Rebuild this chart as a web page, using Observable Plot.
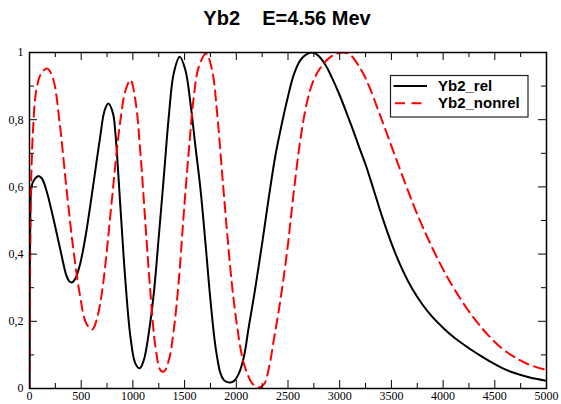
<!DOCTYPE html>
<html><head><meta charset="utf-8">
<script src="https://cdn.jsdelivr.net/npm/d3@7"></script>
<script src="https://cdn.jsdelivr.net/npm/@observablehq/plot@0.6"></script>
<style>
body{margin:0;background:#fff;}
#wrap{position:relative;width:561px;height:404px;overflow:hidden;}
#title{position:absolute;left:0;top:8px;width:574px;text-align:center;white-space:pre;
  font:bold 20px "Liberation Sans",Arial,sans-serif;line-height:20px;color:#000;}
#chart{position:absolute;left:0;top:36px;}
#legend{position:absolute;left:0;top:0;pointer-events:none;}
</style></head>
<body>
<div id="wrap">
  <div id="title">Yb2    E=4.56 Mev</div>
  <div id="chart"></div>
  <svg id="legend" width="561" height="404"></svg>
</div>
<script>
const seriesNames = ["Yb2_rel", "Yb2_nonrel"];
const xTicks = [0, 500, 1000, 1500, 2000, 2500, 3000, 3500, 4000, 4500, 5000];
const xLabels = ["0", "500", "1000", "1500", "2000", "2500", "3000", "3500", "4000", "4500", "5000"];
const xMinor = [250, 750, 1250, 1750, 2250, 2750, 3250, 3750, 4250, 4750];
const yTicks = [0, 0.2, 0.4, 0.6, 0.8, 1];
const yLabels = ["0", "0,2", "0,4", "0,6", "0,8", "1"];
const yMinor = [0.1, 0.3, 0.5, 0.7, 0.9];

const relX = [0, 3, 7, 12, 20, 34, 82, 120, 163, 227, 292, 356, 385, 414, 445, 485, 520, 550, 614, 679, 727, 763, 808, 831, 879, 927, 976, 1024, 1066, 1105, 1153, 1202, 1250, 1299, 1347, 1395, 1453, 1508, 1557, 1605, 1653, 1702, 1750, 1799, 1847, 1880, 1912, 1945, 1976, 2025, 2073, 2121, 2186, 2250, 2315, 2379, 2428, 2493, 2557, 2622, 2686, 2741, 2799, 2864, 2928, 2993, 3057, 3122, 3186, 3251, 3332, 3412, 3509, 3606, 3703, 3800, 3896, 4009, 4074, 4171, 4268, 4364, 4461, 4558, 4655, 4752, 4848, 5000];
const relY = [0, 0.30, 0.50, 0.57, 0.60, 0.615, 0.632, 0.625, 0.590, 0.511, 0.422, 0.337, 0.319, 0.316, 0.328, 0.365, 0.415, 0.468, 0.600, 0.739, 0.828, 0.848, 0.818, 0.759, 0.541, 0.322, 0.154, 0.074, 0.060, 0.084, 0.164, 0.283, 0.451, 0.630, 0.809, 0.938, 0.987, 0.947, 0.848, 0.720, 0.595, 0.432, 0.263, 0.124, 0.045, 0.025, 0.019, 0.018, 0.022, 0.045, 0.094, 0.184, 0.303, 0.432, 0.570, 0.695, 0.770, 0.860, 0.935, 0.978, 0.996, 1.0, 0.989, 0.962, 0.923, 0.878, 0.828, 0.775, 0.720, 0.666, 0.588, 0.510, 0.425, 0.354, 0.296, 0.250, 0.213, 0.178, 0.160, 0.137, 0.116, 0.097, 0.079, 0.063, 0.050, 0.040, 0.032, 0.023];

const nonrelX = [0, 6, 12, 20, 34, 66, 114, 172, 227, 292, 356, 421, 485, 550, 608, 650, 700, 750, 792, 847, 879, 927, 976, 1024, 1073, 1121, 1170, 1218, 1266, 1299, 1347, 1395, 1444, 1492, 1541, 1589, 1637, 1708, 1766, 1815, 1863, 1912, 1960, 2008, 2057, 2105, 2154, 2218, 2267, 2315, 2363, 2412, 2460, 2500, 2525, 2573, 2622, 2686, 2751, 2831, 2912, 2977, 3041, 3106, 3170, 3235, 3293, 3380, 3493, 3622, 3751, 3896, 4025, 4116, 4235, 4332, 4429, 4558, 4687, 4816, 5000];
const nonrelY = [0, 0.35, 0.55, 0.66, 0.77, 0.888, 0.938, 0.952, 0.923, 0.789, 0.600, 0.422, 0.283, 0.193, 0.176, 0.205, 0.285, 0.417, 0.547, 0.715, 0.797, 0.886, 0.918, 0.858, 0.699, 0.491, 0.283, 0.124, 0.055, 0.050, 0.084, 0.174, 0.322, 0.521, 0.709, 0.868, 0.957, 0.997, 0.947, 0.818, 0.640, 0.461, 0.303, 0.184, 0.094, 0.045, 0.015, 0.003, 0.012, 0.060, 0.145, 0.235, 0.335, 0.430, 0.500, 0.630, 0.745, 0.855, 0.920, 0.962, 0.987, 0.997, 1.0, 0.992, 0.967, 0.933, 0.893, 0.822, 0.728, 0.620, 0.518, 0.418, 0.340, 0.292, 0.236, 0.196, 0.161, 0.122, 0.094, 0.073, 0.055];

const rel = relX.map((x, i) => ({x, y: relY[i]}));
const nonrel = nonrelX.map((x, i) => ({x, y: nonrelY[i]}));

const W = 561, H = 368, mT = 16, mB = 16, mL = 29, mR = 15;
const fw = W - mL - mR, fh = H - mT - mB;
const major = 8, minor = 5;
const tickStyle = {stroke: "black", strokeWidth: 1};

const plot = Plot.plot({
  width: W, height: H,
  marginTop: mT, marginBottom: mB, marginLeft: mL, marginRight: mR,
  x: {domain: [0, 5000], label: null},
  y: {domain: [0, 1], label: null},
  style: {fontFamily: "'Liberation Serif', 'Times New Roman', serif", fontSize: "12px", color: "black", background: "white"},
  marks: [
    Plot.line(rel, {x: "x", y: "y", stroke: "black", strokeWidth: 2, curve: "catmull-rom", clip: true}),
    Plot.line(nonrel, {x: "x", y: "y", stroke: "#ff0000", strokeWidth: 2, strokeDasharray: "10,6", curve: "catmull-rom", clip: true}),
    Plot.ruleX(xTicks, {...tickStyle, insetTop: fh - major}),
    Plot.ruleX(xTicks, {...tickStyle, insetBottom: fh - major}),
    Plot.ruleX(xMinor, {...tickStyle, insetTop: fh - minor}),
    Plot.ruleX(xMinor, {...tickStyle, insetBottom: fh - minor}),
    Plot.ruleY(yTicks, {...tickStyle, insetRight: fw - major}),
    Plot.ruleY(yTicks, {...tickStyle, insetLeft: fw - major}),
    Plot.ruleY(yMinor, {...tickStyle, insetRight: fw - minor}),
    Plot.ruleY(yMinor, {...tickStyle, insetLeft: fw - minor}),
    Plot.frame({stroke: "black", strokeWidth: 1.5}),
    Plot.axisX({ticks: xTicks, tickSize: 0, tickPadding: 3, label: null,
      tickFormat: d => xLabels[xTicks.indexOf(d)]}),
    Plot.axisY({ticks: yTicks, tickSize: 0, tickPadding: 6, label: null,
      tickFormat: d => yLabels[yTicks.indexOf(d)]})
  ]
});
document.getElementById("chart").appendChild(plot);

const lg = d3.select("#legend");
lg.append("rect").attr("x", 390.5).attr("y", 75.5).attr("width", 137.5).attr("height", 41.5)
  .attr("fill", "white").attr("stroke", "#222").attr("stroke-width", 1.2);
const items = [
  {name: seriesNames[0], stroke: "black", dash: null, y: 86},
  {name: seriesNames[1], stroke: "#ff0000", dash: "10,6.5", y: 103.3}
];
items.forEach(it => {
  lg.append("line").attr("x1", 393.5).attr("x2", 427).attr("y1", it.y).attr("y2", it.y)
    .attr("stroke", it.stroke).attr("stroke-width", 2).attr("stroke-dasharray", it.dash)
    .attr("stroke-dashoffset", it.dash ? -1.5 : null);
  lg.append("text").attr("x", 438).attr("y", it.y + 5).text(it.name)
    .attr("font-family", "'Liberation Sans', Arial, sans-serif").attr("font-weight", "bold")
    .attr("font-size", 15).attr("fill", "black");
});
</script>
</body></html>
